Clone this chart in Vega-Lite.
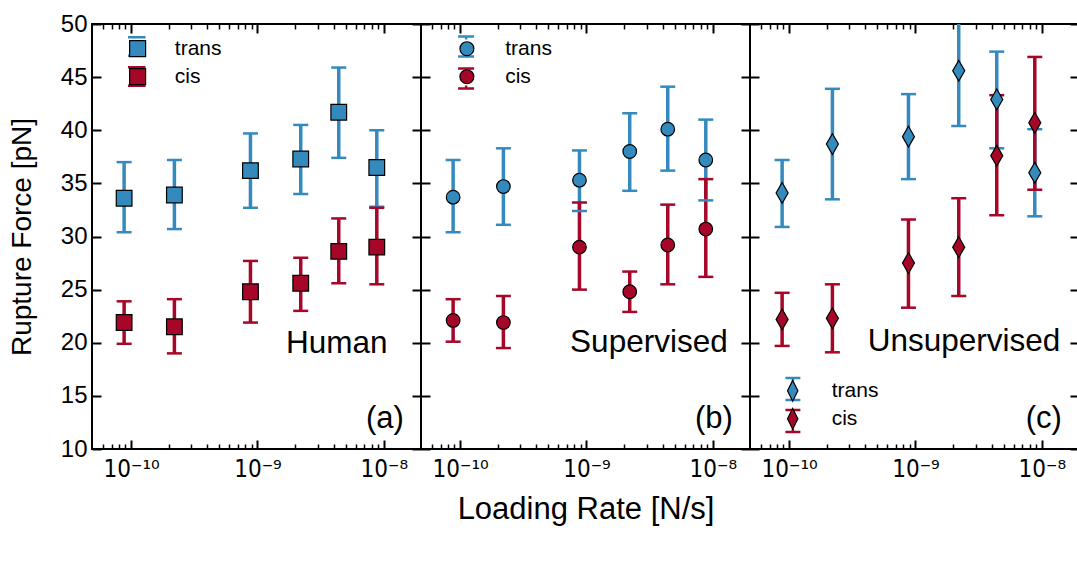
{
  "$schema": "https://vega.github.io/schema/vega-lite/v6.json",
  "background": "white",
  "padding": {"left": 7, "top": 11, "right": 0, "bottom": 5},
  "spacing": 0,
  "bounds": "flush",
  "datasets": {
    "rupture": [
      {"panel": "Human", "type": "trans", "rate": 8.8e-11, "force": 33.6, "lo": 30.4, "hi": 37.0},
      {"panel": "Human", "type": "trans", "rate": 2.2e-10, "force": 33.9, "lo": 30.7, "hi": 37.2},
      {"panel": "Human", "type": "trans", "rate": 8.8e-10, "force": 36.2, "lo": 32.7, "hi": 39.7},
      {"panel": "Human", "type": "trans", "rate": 2.2e-9, "force": 37.3, "lo": 34.0, "hi": 40.5},
      {"panel": "Human", "type": "trans", "rate": 4.4e-9, "force": 41.7, "lo": 37.4, "hi": 45.9},
      {"panel": "Human", "type": "trans", "rate": 8.8e-9, "force": 36.5, "lo": 32.8, "hi": 40.0},
      {"panel": "Human", "type": "cis", "rate": 8.8e-11, "force": 21.9, "lo": 19.9, "hi": 23.9},
      {"panel": "Human", "type": "cis", "rate": 2.2e-10, "force": 21.5, "lo": 19.0, "hi": 24.1},
      {"panel": "Human", "type": "cis", "rate": 8.8e-10, "force": 24.8, "lo": 21.9, "hi": 27.7},
      {"panel": "Human", "type": "cis", "rate": 2.2e-9, "force": 25.6, "lo": 23.0, "hi": 28.0},
      {"panel": "Human", "type": "cis", "rate": 4.4e-9, "force": 28.6, "lo": 25.6, "hi": 31.7},
      {"panel": "Human", "type": "cis", "rate": 8.8e-9, "force": 29.0, "lo": 25.5, "hi": 32.7},
      {"panel": "Supervised", "type": "trans", "rate": 8.8e-11, "force": 33.7, "lo": 30.4, "hi": 37.2},
      {"panel": "Supervised", "type": "trans", "rate": 2.2e-10, "force": 34.7, "lo": 31.1, "hi": 38.3},
      {"panel": "Supervised", "type": "trans", "rate": 8.8e-10, "force": 35.3, "lo": 32.4, "hi": 38.1},
      {"panel": "Supervised", "type": "trans", "rate": 2.2e-9, "force": 38.0, "lo": 34.3, "hi": 41.6},
      {"panel": "Supervised", "type": "trans", "rate": 4.4e-9, "force": 40.1, "lo": 36.2, "hi": 44.1},
      {"panel": "Supervised", "type": "trans", "rate": 8.8e-9, "force": 37.2, "lo": 33.4, "hi": 41.0},
      {"panel": "Supervised", "type": "cis", "rate": 8.8e-11, "force": 22.1, "lo": 20.1, "hi": 24.1},
      {"panel": "Supervised", "type": "cis", "rate": 2.2e-10, "force": 21.9, "lo": 19.5, "hi": 24.4},
      {"panel": "Supervised", "type": "cis", "rate": 8.8e-10, "force": 29.0, "lo": 25.0, "hi": 33.2},
      {"panel": "Supervised", "type": "cis", "rate": 2.2e-9, "force": 24.8, "lo": 22.9, "hi": 26.7},
      {"panel": "Supervised", "type": "cis", "rate": 4.4e-9, "force": 29.2, "lo": 25.5, "hi": 33.0},
      {"panel": "Supervised", "type": "cis", "rate": 8.8e-9, "force": 30.7, "lo": 26.2, "hi": 35.4},
      {"panel": "Unsupervised", "type": "trans", "rate": 8.8e-11, "force": 34.1, "lo": 30.9, "hi": 37.2},
      {"panel": "Unsupervised", "type": "trans", "rate": 2.2e-10, "force": 38.7, "lo": 33.5, "hi": 43.9},
      {"panel": "Unsupervised", "type": "trans", "rate": 8.8e-10, "force": 39.4, "lo": 35.4, "hi": 43.4},
      {"panel": "Unsupervised", "type": "trans", "rate": 2.2e-9, "force": 45.6, "lo": 40.4, "hi": 50.8},
      {"panel": "Unsupervised", "type": "trans", "rate": 4.4e-9, "force": 42.9, "lo": 38.3, "hi": 47.4},
      {"panel": "Unsupervised", "type": "trans", "rate": 8.8e-9, "force": 36.0, "lo": 31.9, "hi": 40.1},
      {"panel": "Unsupervised", "type": "cis", "rate": 8.8e-11, "force": 22.2, "lo": 19.7, "hi": 24.7},
      {"panel": "Unsupervised", "type": "cis", "rate": 2.2e-10, "force": 22.3, "lo": 19.1, "hi": 25.5},
      {"panel": "Unsupervised", "type": "cis", "rate": 8.8e-10, "force": 27.5, "lo": 23.3, "hi": 31.6},
      {"panel": "Unsupervised", "type": "cis", "rate": 2.2e-9, "force": 29.0, "lo": 24.4, "hi": 33.6},
      {"panel": "Unsupervised", "type": "cis", "rate": 4.4e-9, "force": 37.6, "lo": 32.0, "hi": 43.3},
      {"panel": "Unsupervised", "type": "cis", "rate": 8.8e-9, "force": 40.7, "lo": 34.4, "hi": 46.9}
    ]
  },
  "hconcat": [
    {
      "width": 329, "height": 425,
      "data": {"name": "rupture"},
      "transform": [{"filter": "datum.panel === 'Human'"}],
      "resolve": {"axis": {"x": "independent", "y": "independent"}},
      "layer": [
        {
          "mark": {"type": "rule", "strokeWidth": 3.5, "clip": true},
          "encoding": {
            "x": {"field": "rate", "type": "quantitative", "scale": {"type": "log", "domain": [4.9e-11, 1.97e-8]},
              "axis": {"orient": "bottom", "values": [1e-10, 1e-9, 1e-8], "labelExpr": "datum.value < 5e-10 ? '10⁻¹⁰' : (datum.value < 5e-9 ? '10⁻⁹' : '10⁻⁸')", "labelFont": "DejaVu Sans Condensed, DejaVu Sans", "labelFontSize": 24, "labelPadding": 17, "labelFlush": false, "tickSize": -9, "tickWidth": 2, "title": null}},
            "y": {"field": "lo", "type": "quantitative", "scale": {"domain": [10, 50], "nice": false, "zero": false},
              "axis": {"orient": "left", "values": [10, 15, 20, 25, 30, 35, 40, 45, 50], "labelFontSize": 24, "labelPadding": 14, "labelFlush": false, "tickSize": -9, "tickWidth": 2, "title": "Rupture Force [pN]", "titleFontSize": 28, "titlePadding": 24}},
            "y2": {"field": "hi"},
            "stroke": {"field": "type", "type": "nominal", "sort": "descending", "scale": {"range": ["#348ABD", "#A60628"]},
              "legend": {"orient": "top-left", "offset": 12.2, "symbolOffset": 22.25, "padding": 0, "title": null, "symbolType": "M0,-1.15V-1M0,1V1.15M-1.1,-1.15H1.1M-1.1,1.15H1.1", "symbolSize": 256, "symbolStrokeWidth": 2.5, "labelExpr": "' '", "labelFontSize": 21, "labelOffset": 30, "rowPadding": 1}}
          }
        },
        {
          "mark": {"type": "tick", "orient": "horizontal", "size": 15, "thickness": 2.5, "opacity": 1, "clip": true},
          "encoding": {
            "x": {"field": "rate", "type": "quantitative", "scale": {"type": "log", "domain": [4.9e-11, 1.97e-8]},
              "axis": {"orient": "top", "values": [1e-10, 1e-9, 1e-8], "labels": false, "tickSize": -9, "tickWidth": 2, "title": null}},
            "y": {"field": "lo", "type": "quantitative", "scale": {"domain": [10, 50], "nice": false, "zero": false},
              "axis": {"orient": "right", "values": [10, 15, 20, 25, 30, 35, 40, 45, 50], "labels": false, "tickSize": -9, "tickWidth": 2, "title": null}},
            "fill": {"field": "type", "type": "nominal", "scale": {"domain": ["trans", "cis"], "range": ["#348ABD", "#A60628"]}}
          }
        },
        {
          "mark": {"type": "tick", "orient": "horizontal", "size": 15, "thickness": 2.5, "opacity": 1, "clip": true},
          "encoding": {
            "x": {"field": "rate", "type": "quantitative", "scale": {"type": "log", "domain": [4.9e-11, 1.97e-8]},
              "axis": {"orient": "bottom", "values": [6e-11, 7e-11, 8e-11, 9e-11, 2e-10, 3e-10, 4e-10, 5e-10, 6e-10, 7e-10, 8e-10, 9e-10, 2e-9, 3e-9, 4e-9, 5e-9, 6e-9, 7e-9, 8e-9, 9e-9], "labels": false, "tickSize": -5, "tickWidth": 1.5, "title": null}},
            "y": {"field": "hi", "type": "quantitative", "scale": {"domain": [10, 50], "nice": false, "zero": false}, "axis": null},
            "fill": {"field": "type", "type": "nominal", "scale": {"domain": ["trans", "cis"], "range": ["#348ABD", "#A60628"]}}
          }
        },
        {
          "mark": {"type": "point", "shape": "square", "filled": true, "size": 246, "stroke": "black", "strokeWidth": 1.2, "opacity": 1},
          "encoding": {
            "x": {"field": "rate", "type": "quantitative", "scale": {"type": "log", "domain": [4.9e-11, 1.97e-8]},
              "axis": {"orient": "top", "values": [6e-11, 7e-11, 8e-11, 9e-11, 2e-10, 3e-10, 4e-10, 5e-10, 6e-10, 7e-10, 8e-10, 9e-10, 2e-9, 3e-9, 4e-9, 5e-9, 6e-9, 7e-9, 8e-9, 9e-9], "labels": false, "tickSize": -5, "tickWidth": 1.5, "title": null}},
            "y": {"field": "force", "type": "quantitative", "scale": {"domain": [10, 50], "nice": false, "zero": false}, "axis": null},
            "fill": {"field": "type", "type": "nominal", "scale": {"domain": ["trans", "cis"], "range": ["#348ABD", "#A60628"]},
              "legend": {"orient": "none", "legendX": 35.1, "legendY": 14.2, "padding": 0, "title": null, "symbolType": "square", "symbolSize": 256, "symbolStrokeColor": "black", "symbolStrokeWidth": 1.2, "labelFontSize": 21, "labelOffset": 26.7, "rowPadding": 6}}
          }
        },
        {
          "data": {"values": [{}]},
          "mark": {"type": "text", "text": "Human", "align": "right", "baseline": "alphabetic", "fontSize": 31.5},
          "encoding": {
            "x": {"datum": 1.07e-8, "type": "quantitative", "scale": {"type": "log", "domain": [4.9e-11, 1.97e-8]}, "axis": null},
            "y": {"datum": 19.05, "type": "quantitative", "scale": {"domain": [10, 50], "nice": false, "zero": false}, "axis": null}
          }
        },
        {
          "data": {"values": [{}]},
          "mark": {"type": "text", "text": "(a)", "align": "right", "baseline": "alphabetic", "fontSize": 31},
          "encoding": {
            "x": {"datum": 1.44e-8, "type": "quantitative", "scale": {"type": "log", "domain": [4.9e-11, 1.97e-8]}, "axis": null},
            "y": {"datum": 12.0, "type": "quantitative", "scale": {"domain": [10, 50], "nice": false, "zero": false}, "axis": null}
          }
        }
      ]
    },
    {
      "width": 329, "height": 425,
      "data": {"name": "rupture"},
      "transform": [{"filter": "datum.panel === 'Supervised'"}],
      "resolve": {"axis": {"x": "independent", "y": "independent"}},
      "layer": [
        {
          "mark": {"type": "rule", "strokeWidth": 3.5, "clip": true},
          "encoding": {
            "x": {"field": "rate", "type": "quantitative", "scale": {"type": "log", "domain": [4.9e-11, 1.97e-8]},
              "axis": {"orient": "bottom", "values": [1e-10, 1e-9, 1e-8], "labelExpr": "datum.value < 5e-10 ? '10⁻¹⁰' : (datum.value < 5e-9 ? '10⁻⁹' : '10⁻⁸')", "labelFont": "DejaVu Sans Condensed, DejaVu Sans", "labelFontSize": 24, "labelPadding": 17, "labelFlush": false, "tickSize": -9, "tickWidth": 2, "title": "Loading Rate [N/s]", "titleFontSize": 31, "titlePadding": 13}},
            "y": {"field": "lo", "type": "quantitative", "scale": {"domain": [10, 50], "nice": false, "zero": false},
              "axis": {"orient": "left", "values": [10, 15, 20, 25, 30, 35, 40, 45, 50], "labels": false, "tickSize": -9, "tickWidth": 2, "title": null}},
            "y2": {"field": "hi"},
            "stroke": {"field": "type", "type": "nominal", "sort": "descending", "scale": {"range": ["#348ABD", "#A60628"]},
              "legend": {"orient": "top-left", "offset": 12.2, "symbolOffset": 22.6, "padding": 0, "title": null, "symbolType": "M0,-1.44V-1M0,1V1.44M-1.15,-1.44H1.15M-1.15,1.44H1.15", "symbolSize": 194, "symbolStrokeWidth": 2.5, "labelExpr": "' '", "labelFontSize": 21, "labelOffset": 30, "rowPadding": 1}}
          }
        },
        {
          "mark": {"type": "tick", "orient": "horizontal", "size": 15, "thickness": 2.5, "opacity": 1, "clip": true},
          "encoding": {
            "x": {"field": "rate", "type": "quantitative", "scale": {"type": "log", "domain": [4.9e-11, 1.97e-8]},
              "axis": {"orient": "top", "values": [1e-10, 1e-9, 1e-8], "labels": false, "tickSize": -9, "tickWidth": 2, "title": null}},
            "y": {"field": "lo", "type": "quantitative", "scale": {"domain": [10, 50], "nice": false, "zero": false},
              "axis": {"orient": "right", "values": [10, 15, 20, 25, 30, 35, 40, 45, 50], "labels": false, "tickSize": -9, "tickWidth": 2, "title": null}},
            "fill": {"field": "type", "type": "nominal", "scale": {"domain": ["trans", "cis"], "range": ["#348ABD", "#A60628"]}}
          }
        },
        {
          "mark": {"type": "tick", "orient": "horizontal", "size": 15, "thickness": 2.5, "opacity": 1, "clip": true},
          "encoding": {
            "x": {"field": "rate", "type": "quantitative", "scale": {"type": "log", "domain": [4.9e-11, 1.97e-8]},
              "axis": {"orient": "bottom", "values": [6e-11, 7e-11, 8e-11, 9e-11, 2e-10, 3e-10, 4e-10, 5e-10, 6e-10, 7e-10, 8e-10, 9e-10, 2e-9, 3e-9, 4e-9, 5e-9, 6e-9, 7e-9, 8e-9, 9e-9], "labels": false, "tickSize": -5, "tickWidth": 1.5, "title": null}},
            "y": {"field": "hi", "type": "quantitative", "scale": {"domain": [10, 50], "nice": false, "zero": false}, "axis": null},
            "fill": {"field": "type", "type": "nominal", "scale": {"domain": ["trans", "cis"], "range": ["#348ABD", "#A60628"]}}
          }
        },
        {
          "mark": {"type": "point", "shape": "circle", "filled": true, "size": 185, "stroke": "black", "strokeWidth": 1.2, "opacity": 1},
          "encoding": {
            "x": {"field": "rate", "type": "quantitative", "scale": {"type": "log", "domain": [4.9e-11, 1.97e-8]},
              "axis": {"orient": "top", "values": [6e-11, 7e-11, 8e-11, 9e-11, 2e-10, 3e-10, 4e-10, 5e-10, 6e-10, 7e-10, 8e-10, 9e-10, 2e-9, 3e-9, 4e-9, 5e-9, 6e-9, 7e-9, 8e-9, 9e-9], "labels": false, "tickSize": -5, "tickWidth": 1.5, "title": null}},
            "y": {"field": "force", "type": "quantitative", "scale": {"domain": [10, 50], "nice": false, "zero": false}, "axis": null},
            "fill": {"field": "type", "type": "nominal", "scale": {"domain": ["trans", "cis"], "range": ["#348ABD", "#A60628"]},
              "legend": {"orient": "none", "legendX": 35.4, "legendY": 14.2, "padding": 0, "title": null, "symbolType": "circle", "symbolSize": 194, "symbolStrokeColor": "black", "symbolStrokeWidth": 1.2, "labelFontSize": 21, "labelOffset": 27.8, "rowPadding": 6}}
          }
        },
        {
          "data": {"values": [{}]},
          "mark": {"type": "text", "text": "Supervised", "align": "right", "baseline": "alphabetic", "fontSize": 31.5},
          "encoding": {
            "x": {"datum": 1.312e-8, "type": "quantitative", "scale": {"type": "log", "domain": [4.9e-11, 1.97e-8]}, "axis": null},
            "y": {"datum": 19.1, "type": "quantitative", "scale": {"domain": [10, 50], "nice": false, "zero": false}, "axis": null}
          }
        },
        {
          "data": {"values": [{}]},
          "mark": {"type": "text", "text": "(b)", "align": "right", "baseline": "alphabetic", "fontSize": 31},
          "encoding": {
            "x": {"datum": 1.44e-8, "type": "quantitative", "scale": {"type": "log", "domain": [4.9e-11, 1.97e-8]}, "axis": null},
            "y": {"datum": 12.0, "type": "quantitative", "scale": {"domain": [10, 50], "nice": false, "zero": false}, "axis": null}
          }
        }
      ]
    },
    {
      "width": 329, "height": 425,
      "data": {"name": "rupture"},
      "transform": [{"filter": "datum.panel === 'Unsupervised'"}],
      "resolve": {"axis": {"x": "independent", "y": "independent"}},
      "layer": [
        {
          "mark": {"type": "rule", "strokeWidth": 3.5, "clip": true},
          "encoding": {
            "x": {"field": "rate", "type": "quantitative", "scale": {"type": "log", "domain": [4.9e-11, 1.97e-8]},
              "axis": {"orient": "bottom", "values": [1e-10, 1e-9, 1e-8], "labelExpr": "datum.value < 5e-10 ? '10⁻¹⁰' : (datum.value < 5e-9 ? '10⁻⁹' : '10⁻⁸')", "labelFont": "DejaVu Sans Condensed, DejaVu Sans", "labelFontSize": 24, "labelPadding": 17, "labelFlush": false, "tickSize": -9, "tickWidth": 2, "title": null}},
            "y": {"field": "lo", "type": "quantitative", "scale": {"domain": [10, 50], "nice": false, "zero": false},
              "axis": {"orient": "left", "values": [10, 15, 20, 25, 30, 35, 40, 45, 50], "labels": false, "tickSize": -9, "tickWidth": 2, "title": null}},
            "y2": {"field": "hi"},
            "stroke": {"field": "type", "type": "nominal", "sort": "descending", "scale": {"range": ["#348ABD", "#A60628"]},
              "legend": {"orient": "bottom-left", "offset": 12.2, "symbolOffset": 18.9, "padding": 0, "title": null, "symbolType": "M0,-1.05V-0.75M0,0.75V1.05M-0.72,-1.05H0.72M-0.72,1.05H0.72", "symbolSize": 430, "symbolStrokeWidth": 2.5, "labelExpr": "' '", "labelFontSize": 21, "labelOffset": 29, "rowPadding": 0}}
          }
        },
        {
          "mark": {"type": "tick", "orient": "horizontal", "size": 15, "thickness": 2.5, "opacity": 1, "clip": true},
          "encoding": {
            "x": {"field": "rate", "type": "quantitative", "scale": {"type": "log", "domain": [4.9e-11, 1.97e-8]},
              "axis": {"orient": "top", "values": [1e-10, 1e-9, 1e-8], "labels": false, "tickSize": -9, "tickWidth": 2, "title": null}},
            "y": {"field": "lo", "type": "quantitative", "scale": {"domain": [10, 50], "nice": false, "zero": false},
              "axis": {"orient": "right", "values": [10, 15, 20, 25, 30, 35, 40, 45, 50], "labels": false, "tickSize": -9, "tickWidth": 2, "title": null}},
            "fill": {"field": "type", "type": "nominal", "scale": {"domain": ["trans", "cis"], "range": ["#348ABD", "#A60628"]}}
          }
        },
        {
          "mark": {"type": "tick", "orient": "horizontal", "size": 15, "thickness": 2.5, "opacity": 1, "clip": true},
          "encoding": {
            "x": {"field": "rate", "type": "quantitative", "scale": {"type": "log", "domain": [4.9e-11, 1.97e-8]},
              "axis": {"orient": "bottom", "values": [6e-11, 7e-11, 8e-11, 9e-11, 2e-10, 3e-10, 4e-10, 5e-10, 6e-10, 7e-10, 8e-10, 9e-10, 2e-9, 3e-9, 4e-9, 5e-9, 6e-9, 7e-9, 8e-9, 9e-9], "labels": false, "tickSize": -5, "tickWidth": 1.5, "title": null}},
            "y": {"field": "hi", "type": "quantitative", "scale": {"domain": [10, 50], "nice": false, "zero": false}, "axis": null},
            "fill": {"field": "type", "type": "nominal", "scale": {"domain": ["trans", "cis"], "range": ["#348ABD", "#A60628"]}}
          }
        },
        {
          "mark": {"type": "point", "shape": "M0,-1L0.58,0L0,1L-0.58,0Z", "filled": true, "size": 430, "stroke": "black", "strokeWidth": 1.2, "opacity": 1},
          "encoding": {
            "x": {"field": "rate", "type": "quantitative", "scale": {"type": "log", "domain": [4.9e-11, 1.97e-8]},
              "axis": {"orient": "top", "values": [6e-11, 7e-11, 8e-11, 9e-11, 2e-10, 3e-10, 4e-10, 5e-10, 6e-10, 7e-10, 8e-10, 9e-10, 2e-9, 3e-9, 4e-9, 5e-9, 6e-9, 7e-9, 8e-9, 9e-9], "labels": false, "tickSize": -5, "tickWidth": 1.5, "title": null}},
            "y": {"field": "force", "type": "quantitative", "scale": {"domain": [10, 50], "nice": false, "zero": false}, "axis": null},
            "fill": {"field": "type", "type": "nominal", "scale": {"domain": ["trans", "cis"], "range": ["#348ABD", "#A60628"]},
              "legend": {"orient": "none", "legendX": 31.7, "legendY": 355.8, "padding": 0, "title": null, "symbolType": "M0,-1L0.5,0L0,1L-0.5,0Z", "symbolSize": 430, "symbolStrokeColor": "black", "symbolStrokeWidth": 1.2, "labelFontSize": 21, "labelOffset": 28, "rowPadding": 2}}
          }
        },
        {
          "data": {"values": [{}]},
          "mark": {"type": "text", "text": "Unsupervised", "align": "right", "baseline": "alphabetic", "fontSize": 31.5},
          "encoding": {
            "x": {"datum": 1.4e-8, "type": "quantitative", "scale": {"type": "log", "domain": [4.9e-11, 1.97e-8]}, "axis": null},
            "y": {"datum": 19.2, "type": "quantitative", "scale": {"domain": [10, 50], "nice": false, "zero": false}, "axis": null}
          }
        },
        {
          "data": {"values": [{}]},
          "mark": {"type": "text", "text": "(c)", "align": "right", "baseline": "alphabetic", "fontSize": 31},
          "encoding": {
            "x": {"datum": 1.44e-8, "type": "quantitative", "scale": {"type": "log", "domain": [4.9e-11, 1.97e-8]}, "axis": null},
            "y": {"datum": 12.0, "type": "quantitative", "scale": {"domain": [10, 50], "nice": false, "zero": false}, "axis": null}
          }
        }
      ]
    }
  ],
  "resolve": {
    "scale": {"fill": "independent", "stroke": "independent"},
    "legend": {"fill": "independent", "stroke": "independent"}
  },
  "config": {
    "font": "Liberation Sans",
    "view": {"stroke": "black", "strokeWidth": 2},
    "axis": {"grid": false, "domain": false, "tickColor": "black", "labelColor": "black", "titleColor": "black", "labelFont": "Liberation Sans", "titleFont": "Liberation Sans", "titleFontWeight": "normal"},
    "legend": {"labelFont": "Liberation Sans", "labelColor": "black"},
    "text": {"font": "Liberation Sans", "color": "black"}
  }
}
